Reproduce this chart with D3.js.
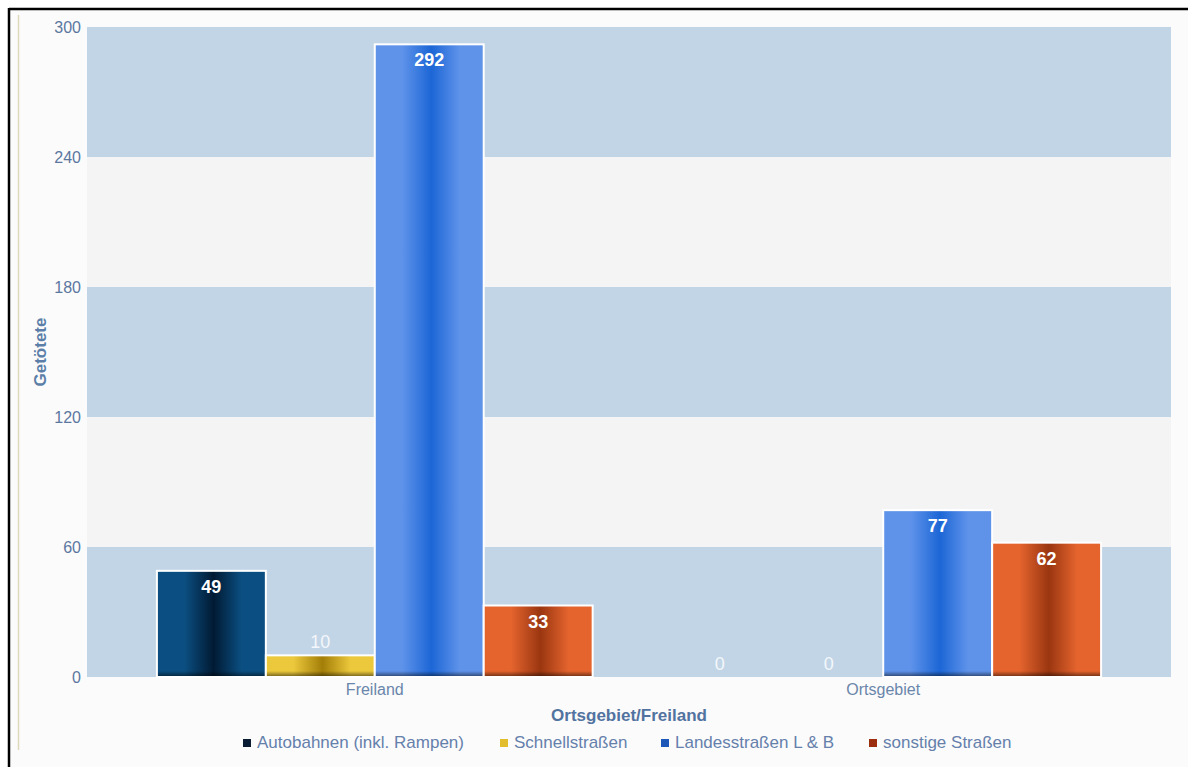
<!DOCTYPE html>
<html>
<head>
<meta charset="utf-8">
<script src="https://cdn.jsdelivr.net/npm/d3@7/dist/d3.min.js"></script>
<style>
  html, body { margin: 0; padding: 0; background: #ffffff; }
  svg { display: block; font-family: "Liberation Sans", Arial, sans-serif; }
</style>
</head>
<body>
<svg id="chart" width="1188" height="767"></svg>
<script>
// Getötete nach Straßenart, Ortsgebiet/Freiland
const categories = ["Freiland", "Ortsgebiet"];
const seriesNames = ["Autobahnen (inkl. Rampen)", "Schnellstraßen", "Landesstraßen L & B", "sonstige Straßen"];
const autobahnen = [49, 0];
const schnellstrassen = [10, 0];
const landesstrassen = [292, 77];
const sonstige = [33, 62];
const yTicks = [0, 60, 120, 180, 240, 300];

const seriesValues = [autobahnen, schnellstrassen, landesstrassen, sonstige];

// colour sets per series: edge, centre, legend swatch
const palette = [
  { edge: "#0b4f82", mid: "#011a33", swatch: "#0a1c33" },
  { edge: "#ecc93c", mid: "#a37e08", swatch: "#e2bd2e" },
  { edge: "#5f93ea", mid: "#1c66d6", swatch: "#1d58b8" },
  { edge: "#e5642e", mid: "#9a3610", swatch: "#9a2e0e" }
];

const svg = d3.select("#chart");
const W = 1188, H = 767;

// page frame
svg.append("rect").attr("x", 0).attr("y", 0).attr("width", W).attr("height", H).attr("fill", "#ffffff");
svg.append("rect").attr("x", 10).attr("y", 10).attr("width", W - 10).attr("height", H - 10).attr("fill", "#fbfbfb");
svg.append("line").attr("x1", 9).attr("x2", W).attr("y1", 9).attr("y2", 9).attr("stroke", "#000").attr("stroke-width", 2.5);
svg.append("line").attr("x1", 9).attr("x2", 9).attr("y1", 8).attr("y2", H).attr("stroke", "#000").attr("stroke-width", 2.5);
svg.append("line").attr("x1", 18.5).attr("x2", 18.5).attr("y1", 15).attr("y2", 750).attr("stroke", "#ddd8b8").attr("stroke-width", 1.5);

const plot = { left: 87, right: 1171, top: 27, bottom: 677 };

const y = d3.scaleLinear().domain([0, 300]).range([plot.bottom, plot.top]);
const x0 = d3.scaleBand().domain(categories).range([plot.left, plot.right])
  .paddingInner(0.143).paddingOuter(0.1375);
const x1 = d3.scaleBand().domain(d3.range(seriesNames.length)).range([0, x0.bandwidth()]).padding(0);

// alternating horizontal bands
const bands = d3.pairs(yTicks);
svg.append("g").selectAll("rect").data(bands).join("rect")
  .attr("x", plot.left)
  .attr("width", plot.right - plot.left)
  .attr("y", d => y(d[1]))
  .attr("height", d => y(d[0]) - y(d[1]))
  .attr("fill", (d, i) => i % 2 === 0 ? "#c2d5e6" : "#f4f4f4");

// gradients for the cylinder-like bars
const defs = svg.append("defs");
palette.forEach((p, i) => {
  const g = defs.append("linearGradient").attr("id", "grad" + i)
    .attr("x1", "0%").attr("x2", "100%").attr("y1", "0%").attr("y2", "0%");
  g.append("stop").attr("offset", "0%").attr("stop-color", p.edge);
  g.append("stop").attr("offset", "25%").attr("stop-color", p.edge);
  g.append("stop").attr("offset", "52%").attr("stop-color", p.mid);
  g.append("stop").attr("offset", "78%").attr("stop-color", p.edge);
  g.append("stop").attr("offset", "100%").attr("stop-color", p.edge);
});
const shade = defs.append("linearGradient").attr("id", "bottomShade")
  .attr("x1", "0%").attr("x2", "0%").attr("y1", "0%").attr("y2", "100%");
shade.append("stop").attr("offset", "0%").attr("stop-color", "#000").attr("stop-opacity", 0);
shade.append("stop").attr("offset", "100%").attr("stop-color", "#000").attr("stop-opacity", 0.55);

// y axis
const yAxis = d3.axisLeft(y).tickValues(yTicks).tickSize(0).tickPadding(6);
const yg = svg.append("g").attr("transform", `translate(${plot.left},0)`).call(yAxis);
yg.select(".domain").remove();
yg.selectAll("text").attr("fill", "#5b77a0").attr("font-size", 16)
  .attr("font-family", "Liberation Sans, Arial, sans-serif");

svg.append("text")
  .attr("transform", `translate(46,${(plot.top + plot.bottom) / 2}) rotate(-90)`)
  .attr("text-anchor", "middle")
  .attr("fill", "#5b7fa8").attr("font-size", 17).attr("font-weight", "bold")
  .text("Getötete");

// bars
const data = [];
categories.forEach((c, ci) => {
  seriesValues.forEach((vals, si) => data.push({ cat: c, s: si, v: vals[ci] }));
});

const barG = svg.append("g");
const bars = barG.selectAll("g").data(data.filter(d => d.v > 0)).join("g");
bars.append("rect")
  .attr("x", d => x0(d.cat) + x1(d.s))
  .attr("width", x1.bandwidth())
  .attr("y", d => y(d.v))
  .attr("height", d => y(0) - y(d.v))
  .attr("fill", d => `url(#grad${d.s})`);
bars.append("rect")
  .attr("x", d => x0(d.cat) + x1(d.s))
  .attr("width", x1.bandwidth())
  .attr("y", d => Math.max(y(d.v), y(0) - 6))
  .attr("height", d => Math.min(y(0) - y(d.v), 6))
  .attr("fill", "url(#bottomShade)");
bars.append("rect")
  .attr("x", d => x0(d.cat) + x1(d.s))
  .attr("width", x1.bandwidth())
  .attr("y", d => y(d.v))
  .attr("height", d => y(0) - y(d.v))
  .attr("fill", "none")
  .attr("stroke", "#ffffff").attr("stroke-width", 2);

// value labels: inside the top of tall bars, above short ones
svg.append("g").selectAll("text").data(data).join("text")
  .attr("x", d => x0(d.cat) + x1(d.s) + x1.bandwidth() / 2)
  .attr("y", d => (y(0) - y(d.v)) > 40 ? y(d.v) + 22 : y(d.v) - 7)
  .attr("text-anchor", "middle")
  .attr("font-size", 18)
  .attr("font-weight", d => (y(0) - y(d.v)) > 40 ? "bold" : "normal")
  .attr("fill", d => (y(0) - y(d.v)) > 40 ? "#ffffff" : "#f4f7fb")
  .text(d => d.v);

// x axis labels
const xAxis = d3.axisBottom(x0).tickSize(0).tickPadding(7);
const xg = svg.append("g").attr("transform", `translate(0,${plot.bottom})`).call(xAxis);
xg.select(".domain").remove();
xg.selectAll("text").attr("fill", "#6a86aa").attr("font-size", 16)
  .attr("font-family", "Liberation Sans, Arial, sans-serif");

svg.append("text")
  .attr("x", (plot.left + plot.right) / 2 + 0).attr("y", 721)
  .attr("text-anchor", "middle")
  .attr("fill", "#5273a0").attr("font-size", 17).attr("font-weight", "bold")
  .text("Ortsgebiet/Freiland");

// legend
const legendX = [243, 500, 661, 869];
const legend = svg.append("g").selectAll("g").data(seriesNames).join("g")
  .attr("transform", (d, i) => `translate(${legendX[i]},742)`);
legend.append("rect").attr("x", 0).attr("y", -3).attr("width", 8).attr("height", 8)
  .attr("fill", (d, i) => palette[i].swatch);
legend.append("text").attr("x", 14).attr("y", 6)
  .attr("fill", "#6580ab").attr("font-size", 17)
  .text(d => d);
</script>
</body>
</html>
